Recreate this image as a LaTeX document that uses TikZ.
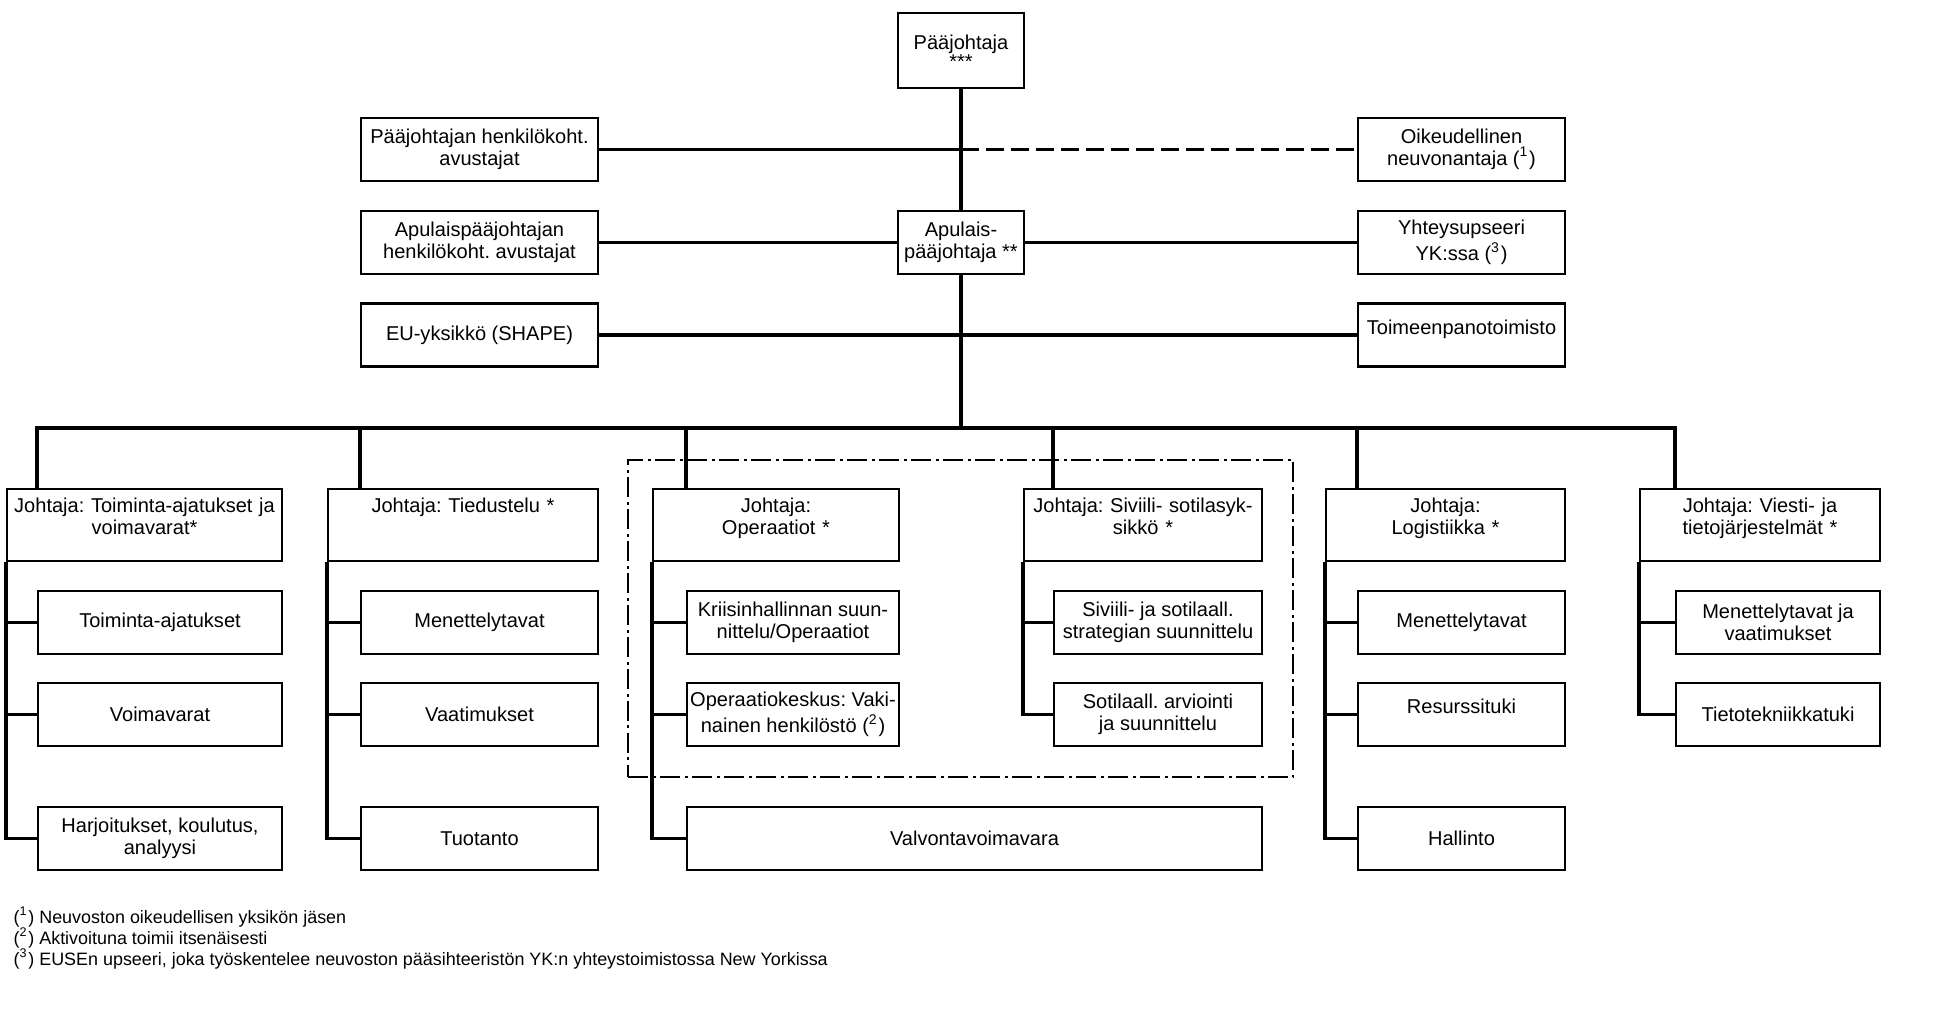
\documentclass[tikz,border=0pt]{standalone}
\usepackage{fontspec}
\setmainfont{Liberation Sans}
\usetikzlibrary{calc}
\frenchspacing

\begin{document}
\begin{tikzpicture}[x=0.1mm,y=-0.1mm,
    every node/.style={font=\fontsize{5.7}{6.3}\selectfont},
    box/.style={draw,line width=0.6pt,inner sep=0pt,align=center,minimum height=6.3mm},
    head/.style={draw,line width=0.6pt,inner xsep=0.5mm,inner ysep=0pt,align=center,text height=2.3mm,text depth=4.9mm},
    link/.style={line width=1pt},
    note/.style={anchor=west,inner sep=0pt,font=\fontsize{5.1}{6}\selectfont}]
    \useasboundingbox (0,0) rectangle (1940,1020);
    % top
    \node[box,minimum width=12.6mm,minimum height=7.5mm] (paa) at (961,50.5) {\raisebox{-0.3mm}[\height][\depth]{P\"a\"ajohtaja}\\***};
    \node[box,minimum width=12.6mm] (apu) at (961,242.5) {Apulais-\\p\"a\"ajohtaja **};
    \node[box,minimum width=23.7mm] (pa1) at (479.5,149.5) {P\"a\"ajohtajan henkil\"okoht.\\avustajat};
    \node[box,minimum width=23.7mm] (pa2) at (479.5,242.5) {Apulaisp\"a\"ajohtajan\\henkil\"okoht. avustajat};
    \node[box,minimum width=23.7mm] (eu) at (479.5,335) {EU-yksikk\"o (SHAPE)};
    \node[box,minimum width=20.7mm] (legal) at (1461.5,149.5) {Oikeudellinen\\neuvonantaja (\textsuperscript{1})};
    \node[box,minimum width=20.7mm] (liaison) at (1461.5,242.5) {Yhteysupseeri\\YK:ssa (\textsuperscript{3})};
    \node[box,minimum width=20.7mm] (exec) at (1461.5,335) {\raisebox{0.6mm}[\height][\depth]{Toimeenpanotoimisto}};
    \draw[link] (paa.south) -- (apu.north);
    \draw[link] (pa1.east) -- (pa1.east -| paa.south);
    \draw[link,dash pattern=on 1.8mm off 0.7mm] (pa1.east -| paa.south) -- (legal.west);
    \draw[link] (pa2.east) -- (apu.west);
    \draw[link] (apu.east) -- (liaison.west);
    \draw[link] (eu.east) -- (exec.west);
    \coordinate (bus) at (961,428);
    \draw[link] (apu.south) -- (bus);
    % heads
    \node[head,text width=26.5mm] (h1) at (144.5,525) {Johtaja: Toiminta-ajatukset ja\\voimavarat*};
    \node[head,text width=26mm] (h2) at (463,525) {Johtaja: Tiedustelu *};
    \node[head,text width=23.6mm] (h3) at (776,525) {Johtaja:\\Operaatiot *};
    \node[head,text width=22.8mm] (h4) at (1143,525) {Johtaja: Siviili- sotilasyk-\\sikk\"o *};
    \node[head,text width=22.9mm] (h5) at (1445.5,525) {Johtaja:\\Logistiikka *};
    \node[head,text width=23mm] (h6) at (1760,525) {Johtaja: Viesti- ja\\tietoj\"arjestelm\"at *};
    % units
    \node[box,minimum width=24.4mm] (c1a) at (160,622.5) {Toiminta-ajatukset};
    \node[box,minimum width=24.4mm] (c1b) at (160,714.5) {Voimavarat};
    \node[box,minimum width=24.4mm] (c1c) at (160,838.5) {Harjoitukset, koulutus,\\analyysi};
    \node[box,minimum width=23.7mm] (c2a) at (479.5,622.5) {Menettelytavat};
    \node[box,minimum width=23.7mm] (c2b) at (479.5,714.5) {Vaatimukset};
    \node[box,minimum width=23.7mm] (c2c) at (479.5,838.5) {Tuotanto};
    \node[box,minimum width=21.2mm] (c3a) at (793,622.5) {Kriisinhallinnan suun-\\nittelu/Operaatiot};
    \node[box,minimum width=21.2mm] (c3b) at (793,714.5) {Operaatiokeskus: Vaki-\\nainen henkil\"ost\"o (\textsuperscript{2})};
    \node[box,minimum width=57.5mm] (c3c) at (974.5,838.5) {Valvontavoimavara};
    \node[box,minimum width=20.8mm] (c4a) at (1158,622.5) {Siviili- ja sotilaall.\\strategian suunnittelu};
    \node[box,minimum width=20.8mm] (c4b) at (1158,714.5) {Sotilaall. arviointi\\ja suunnittelu};
    \node[box,minimum width=20.7mm] (c5a) at (1461.5,622.5) {Menettelytavat};
    \node[box,minimum width=20.7mm] (c5b) at (1461.5,714.5) {\raisebox{0.8mm}[\height][\depth]{Resurssituki}};
    \node[box,minimum width=20.7mm] (c5c) at (1461.5,838.5) {Hallinto};
    \node[box,minimum width=20.4mm] (c6a) at (1778,622.5) {Menettelytavat ja\\vaatimukset};
    \node[box,minimum width=20.4mm] (c6b) at (1778,714.5) {Tietotekniikkatuki};
    \node[draw,line width=0.6pt,dash pattern=on 2mm off 0.45mm on 0.3mm off 0.45mm,minimum width=66.5mm,minimum height=31.7mm] (grp) at (960.5,618.5) {};
    % bus and drops
    \draw[link] (c1a.west |- h1.north) -- (c1a.west |- bus) -- (c6a.west |- bus) -- (c6a.west |- h6.north);
    \foreach \c/\h in {c2a/h2,c3a/h3,c4a/h4,c5a/h5}
        \draw[link] (\c.west |- bus) -- (\c.west |- \h.north);
    \foreach \h/\c in {h1/c1c,h2/c2c,h3/c3c,h4/c4b,h5/c5c,h6/c6b}
        \draw[link] (\h.south west) -- (\h.south west |- \c.west) -- (\c.west);
    \foreach \h/\c in {h1/c1a,h1/c1b,h2/c2a,h2/c2b,h3/c3a,h3/c3b,h4/c4a,h5/c5a,h5/c5b,h6/c6a}
        \draw[link] (\h.south west |- \c.west) -- (\c.west);
    % notes
    \node[note] (n1) at (13,917) {(\textsuperscript{1}) Neuvoston oikeudellisen yksik\"on j\"asen};
    \node[note] (n2) at (13,938) {(\textsuperscript{2}) Aktivoituna toimii itsen\"aisesti};
    \node[note] (n3) at (13,959) {(\textsuperscript{3}) EUSEn upseeri, joka ty\"oskentelee neuvoston p\"a\"asihteerist\"on YK:n yhteystoimistossa New Yorkissa};
\end{tikzpicture}
\end{document}
